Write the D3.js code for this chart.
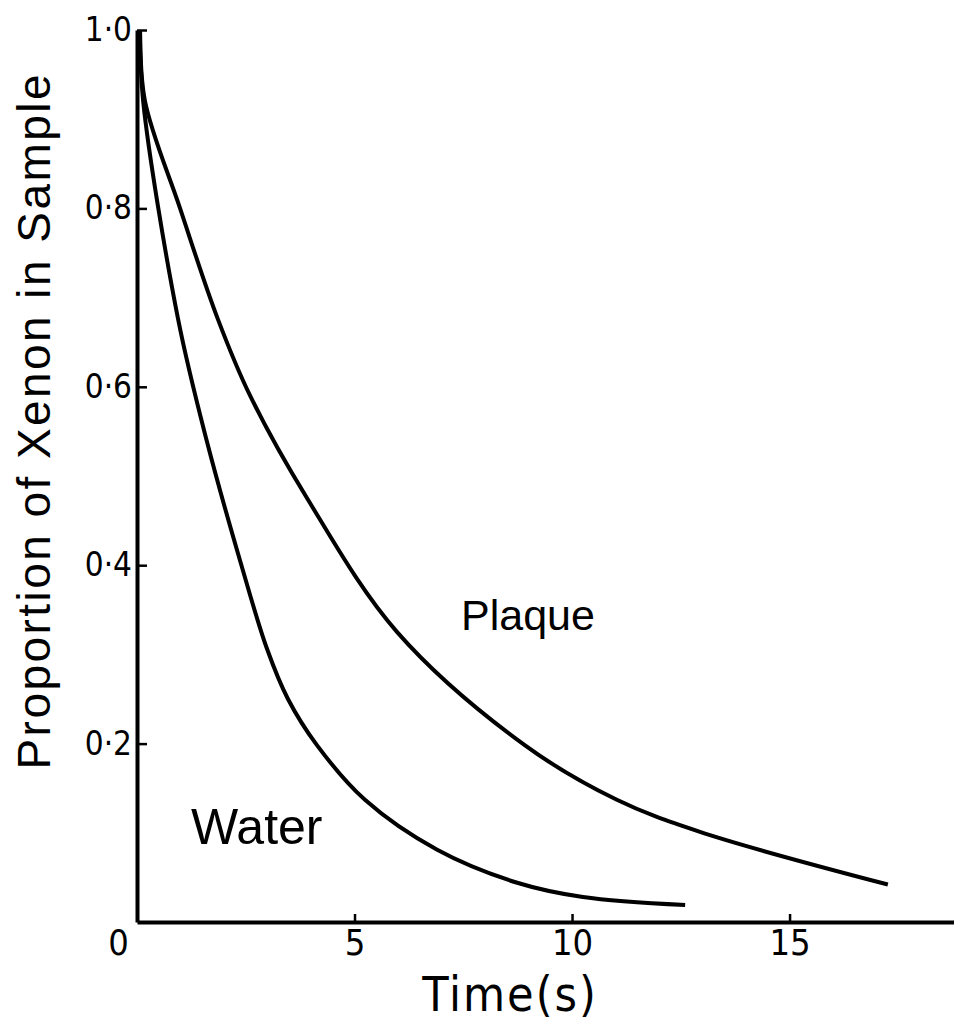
<!DOCTYPE html>
<html>
<head>
<meta charset="utf-8">
<script src="https://cdn.jsdelivr.net/npm/d3@7"></script>
<style>
  html, body { margin: 0; padding: 0; background: #fff; }
  svg { display: block; }
</style>
</head>
<body>
<div id="container"></div>
<script>
const width = 954, height = 1025;

// Data: time (s) vs proportion of xenon remaining
const waterTime  = [0.07, 0.14, 0.94, 1.60, 2.40, 2.99, 3.47, 4.14, 5.24, 6.90, 8.74, 10.25, 12.60];
const waterValue = [1.00, 0.921, 0.677, 0.540, 0.400, 0.306, 0.250, 0.198, 0.137, 0.081, 0.044, 0.028, 0.019];

const plaqueTime  = [0.07, 0.18, 0.99, 1.85, 2.60, 3.91, 5.98, 8.92, 11.03, 12.94, 17.26];
const plaqueValue = [1.00, 0.921, 0.800, 0.677, 0.590, 0.475, 0.325, 0.198, 0.137, 0.101, 0.042];

const xTicks = [0, 5, 10, 15];
const yTicks = [0.2, 0.4, 0.6, 0.8, 1.0];

const narrow = "'Liberation Sans Narrow', 'DejaVu Sans Condensed', sans-serif";
const sans = "'Liberation Sans', Arial, sans-serif";

const svg = d3.select("#container")
  .append("svg")
  .attr("width", width)
  .attr("height", height);

// Scales
const x = d3.scaleLinear().domain([0, 18.78]).range([137, 954]);
const y = d3.scaleLinear().domain([0, 1]).range([922, 30]);

// Curves (centripetal Catmull-Rom keeps the near-vertical start smooth)
const lineGen = d3.line()
  .x(d => x(d[0]))
  .y(d => y(d[1]))
  .curve(d3.curveCatmullRom.alpha(0.5));

const series = [
  waterTime.map((t, i) => [t, waterValue[i]]),
  plaqueTime.map((t, i) => [t, plaqueValue[i]]),
];

series.forEach(s => {
  svg.append("path")
    .datum(s)
    .attr("fill", "none")
    .attr("stroke", "#000")
    .attr("stroke-width", 4)
    .attr("stroke-linejoin", "round")
    .attr("d", lineGen);
});

// Axes
const xAxis = svg.append("g")
  .attr("transform", `translate(0,${y(0)})`)
  .call(d3.axisBottom(x)
    .tickValues(xTicks)
    .tickSize(-8)
    .tickSizeOuter(0)
    .tickPadding(7)
    .tickFormat(d3.format("d")));

const yAxis = svg.append("g")
  .attr("transform", `translate(${x(0)},0)`)
  .call(d3.axisLeft(y)
    .tickValues(yTicks)
    .tickSize(-10)
    .tickSizeOuter(0)
    .tickPadding(5)
    .tickFormat(d => d3.format(".1f")(d).replace(".", "·")));

for (const ax of [xAxis, yAxis]) {
  ax.select(".domain").attr("stroke", "#000").attr("stroke-width", 4);
  ax.selectAll(".tick line").attr("stroke", "#000").attr("stroke-width", 2.5);
  ax.selectAll("text")
    .attr("fill", "#000")
    .style("font-family", narrow);
}
xAxis.selectAll("text").style("font-size", "36px");
yAxis.selectAll("text").style("font-size", "33px");

// "0" sits left of the corner, no tick mark there
const zeroTick = xAxis.selectAll(".tick").filter(d => d === 0);
zeroTick.select("text").attr("x", -19);
zeroTick.select("line").remove();

// Axis titles
svg.append("text")
  .attr("x", 510)
  .attr("y", 1011)
  .attr("text-anchor", "middle")
  .attr("letter-spacing", "2px")
  .style("font-family", narrow)
  .style("font-size", "48px")
  .attr("fill", "#000")
  .text("Time(s)");

svg.append("text")
  .attr("transform", "translate(50,422) rotate(-90)")
  .attr("text-anchor", "middle")
  .attr("textLength", 695)
  .attr("lengthAdjust", "spacing")
  .style("font-family", sans)
  .style("font-size", "46px")
  .attr("fill", "#000")
  .text("Proportion of Xenon in Sample");

// Curve labels
svg.append("text")
  .attr("x", 191)
  .attr("y", 844)
  .style("font-family", sans)
  .style("font-size", "50px")
  .attr("fill", "#000")
  .text("Water");

svg.append("text")
  .attr("x", 461)
  .attr("y", 630)
  .style("font-family", sans)
  .style("font-size", "43px")
  .attr("fill", "#000")
  .text("Plaque");
</script>
</body>
</html>
